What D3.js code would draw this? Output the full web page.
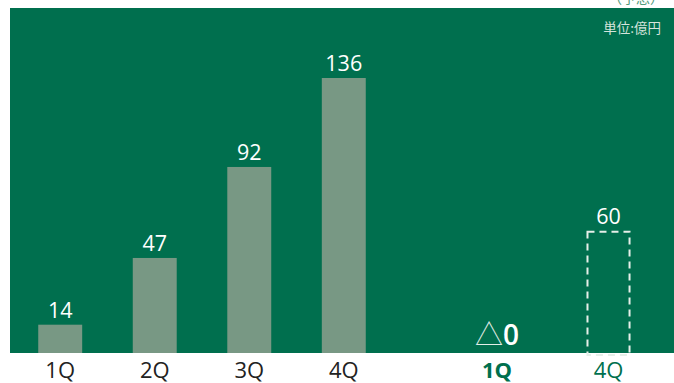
<!DOCTYPE html>
<html>
<head>
<meta charset="utf-8">
<script src="https://cdn.jsdelivr.net/npm/d3@7"></script>
<style>
  body { margin: 0; background: #fff; }
  svg { display: block; font-family: "Open Sans", "Noto Sans CJK JP", sans-serif; }
</style>
</head>
<body>
<div id="chart"></div>
<script>
// quarterly results (left) and forecast panel (right)
const quarters = ['1Q', '2Q', '3Q', '4Q'];
const values = [14, 47, 92, 136];
const forecastQuarters = ['1Q', '4Q'];
const forecastLabels = ['0', '60'];
const forecastValues = [0, 60];
const unitLabel = '単位:億円';

const width = 674, height = 383;
const plot = {left: 10, right: 674, top: 8, bottom: 353};

const svg = d3.select('#chart')
    .append('svg')
    .attr('width', width)
    .attr('height', height);

// green panel
svg.append('rect')
    .attr('x', plot.left)
    .attr('y', plot.top)
    .attr('width', plot.right - plot.left)
    .attr('height', plot.bottom - plot.top)
    .attr('fill', '#006f4e');

// heading above the panel, mostly cut off in the picture
svg.append('text')
    .attr('x', 636)
    .attr('y', 3)
    .attr('text-anchor', 'middle')
    .attr('font-size', 14)
    .attr('fill', '#4f9a7b')
    .text('（予想）');

const y = d3.scaleLinear()
    .domain([0, 136])
    .range([plot.bottom, plot.bottom - 275]);

const x = d3.scaleBand()
    .domain(quarters)
    .range([13, 391])
    .paddingInner(0.535)
    .paddingOuter(0.267);

const x2 = d3.scaleBand()
    .domain(forecastQuarters)
    .range([441.5, 664])
    .paddingInner(0.605)
    .paddingOuter(0.3);

// actual bars
svg.selectAll('rect.bar')
    .data(values)
    .enter()
    .append('rect')
    .attr('class', 'bar')
    .attr('x', (d, i) => x(quarters[i]))
    .attr('y', d => y(d))
    .attr('width', x.bandwidth())
    .attr('height', d => y(0) - y(d))
    .attr('fill', '#789884');

svg.selectAll('text.val')
    .data(values)
    .enter()
    .append('text')
    .attr('class', 'val')
    .attr('x', (d, i) => x(quarters[i]) + x.bandwidth() / 2)
    .attr('y', d => y(d) - 7)
    .attr('text-anchor', 'middle')
    .attr('font-size', 21.5)
    .attr('fill', '#fff')
    .text(d => d);

// forecast: dashed outline box
svg.selectAll('rect.fc')
    .data(forecastValues)
    .enter()
    .filter(d => d > 0)
    .append('rect')
    .attr('class', 'fc')
    .attr('x', d => x2(forecastQuarters[forecastValues.indexOf(d)]) + 1)
    .attr('y', d => y(d))
    .attr('width', x2.bandwidth() - 2)
    .attr('height', d => y(0) - y(d) + 2)
    .attr('fill', 'none')
    .attr('stroke', '#e6efe9')
    .attr('stroke-width', 2)
    .attr('stroke-dasharray', '7,5');

svg.selectAll('text.fcval')
    .data(forecastValues)
    .enter()
    .append('text')
    .attr('class', 'fcval')
    .attr('x', (d, i) => x2(forecastQuarters[i]) + x2.bandwidth() / 2)
    .attr('y', d => d > 0 ? y(d) - 8 : y(0) - 8)
    .attr('text-anchor', 'middle')
    .attr('fill', '#fff')
    .each(function(d, i) {
        const t = d3.select(this);
        if (d > 0) {
            t.attr('font-size', 21.5).text(forecastLabels[i]);
        } else {
            t.append('tspan')
                .attr('font-size', 28)
                .attr('font-family', '"Noto Sans CJK JP"')
                .attr('font-weight', 300)
                .attr('fill', '#e3eee8')
                .text('△');
            t.append('tspan')
                .attr('font-size', 28)
                .attr('font-weight', 600)
                .text(forecastLabels[i]);
        }
    });

// category axes
const axis = svg.append('g')
    .attr('transform', `translate(0, ${plot.bottom})`)
    .call(d3.axisBottom(x).tickSize(0).tickPadding(9.5));
axis.select('.domain').remove();
axis.selectAll('text')
    .attr('font-size', 22)
    .attr('font-family', '"Open Sans", sans-serif')
    .attr('fill', '#222');

const axis2 = svg.append('g')
    .attr('transform', `translate(0, ${plot.bottom})`)
    .call(d3.axisBottom(x2).tickSize(0).tickPadding(9.5));
axis2.select('.domain').remove();
axis2.selectAll('text')
    .attr('font-size', 22)
    .attr('font-family', '"Open Sans", sans-serif')
    .attr('fill', '#00704e')
    .attr('font-weight', d => d === '1Q' ? 'bold' : 'normal');

// unit note
svg.append('text')
    .attr('x', 661)
    .attr('y', 33)
    .attr('text-anchor', 'end')
    .attr('font-size', 13.5)
    .attr('font-family', '"Noto Sans CJK JP", sans-serif')
    .attr('fill', '#d5e4dc')
    .text(unitLabel);
</script>
</body>
</html>
